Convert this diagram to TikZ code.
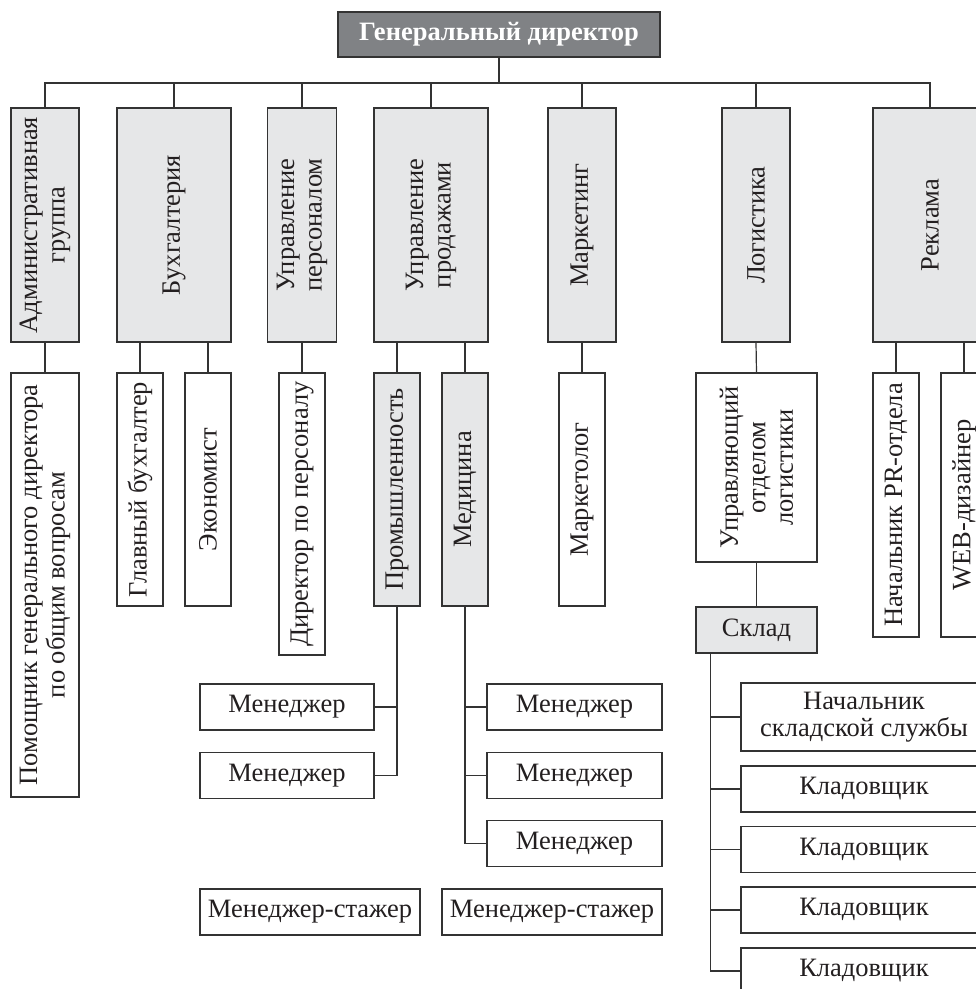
\documentclass[tikz,border=0pt]{standalone}
\usepackage{fontspec}
\setmainfont{Liberation Serif}
\definecolor{linec}{HTML}{333333}
\definecolor{boxgray}{HTML}{E6E7E8}
\definecolor{topgray}{HTML}{808285}
\definecolor{txt}{HTML}{231F20}
\tikzset{
  box/.style={draw=linec, line width=1.2pt, fill=white, inner sep=0pt, text=txt,
    font=\fontsize{26.5}{27.5}\selectfont, align=center},
  gbox/.style={box, fill=boxgray},
  vbox/.style={rotate=90},
  conn/.style={draw=linec, line width=1.2pt},
}
\begin{document}
\begin{tikzpicture}[x=1pt,y=-1pt]
\useasboundingbox (0,0) rectangle (976,989);
\clip (0,0) rectangle (976,989);
% top
\node[box, fill=topgray, text=white, font=\fontsize{26.5}{27.5}\selectfont\bfseries,
  minimum width=322pt, minimum height=45pt] (gd) at (499,34.5) {Генеральный директор};
\coordinate (bus) at (499,83);
% level 1
\node[gbox, vbox, minimum width=234pt, minimum height=68pt] (adm) at (45,225) {Административная\\группа};
\node[gbox, vbox, minimum width=234pt, minimum height=114pt] (buh) at (174,225) {Бухгалтерия};
\node[gbox, vbox, minimum width=234pt, minimum height=69pt] (pers) at (302,225) {Управление\\персоналом};
\node[gbox, vbox, minimum width=234pt, minimum height=114pt] (sales) at (431,225) {Управление\\продажами};
\node[gbox, vbox, minimum width=234pt, minimum height=68pt] (mkt) at (582,225) {Маркетинг};
\node[gbox, vbox, minimum width=234pt, minimum height=68pt] (log) at (756,225) {Логистика};
\node[gbox, vbox, minimum width=234pt, minimum height=114pt] (adv) at (930,225) {Реклама};
% level 2
\node[box, vbox, minimum width=424pt, minimum height=68pt] (asst) at (45,585) {Помощник генерального директора\\по общим вопросам};
\node[box, vbox, minimum width=233pt, minimum height=46pt] (ca) at (140,489.5) {Главный бухгалтер};
\node[box, vbox, minimum width=233pt, minimum height=46pt] (econ) at (208,489.5) {Экономист};
\node[box, vbox, minimum width=282pt, minimum height=46pt] (hrd) at (302,514) {Директор по персоналу};
\node[gbox, vbox, minimum width=233pt, minimum height=46pt] (prom) at (397,489.5) {Промышленность};
\node[gbox, vbox, minimum width=233pt, minimum height=46pt] (med) at (465,489.5) {Медицина};
\node[box, vbox, minimum width=233pt, minimum height=46pt] (mktr) at (582,489.5) {Маркетолог};
\node[box, vbox, minimum width=189pt, minimum height=121pt] (lmgr) at (756.5,467.5) {Управляющий\\отделом\\логистики};
\node[gbox, minimum width=121pt, minimum height=46pt] (sklad) at (756.5,630) {Склад};
\node[box, vbox, minimum width=264pt, minimum height=46pt] (pr) at (896,505) {Начальник PR-отдела};
\node[box, vbox, minimum width=264pt, minimum height=46pt] (web) at (964,505) {WEB-дизайнер};
% level 3
\node[box, minimum width=174pt, minimum height=46pt] (m1) at (287,707) {Менеджер};
\node[box, minimum width=174pt, minimum height=46pt] (m2) at (287,775.5) {Менеджер};
\node[box, minimum width=175pt, minimum height=46pt] (m3) at (574.5,707) {Менеджер};
\node[box, minimum width=175pt, minimum height=46pt] (m4) at (574.5,775.5) {Менеджер};
\node[box, minimum width=175pt, minimum height=46pt] (m5) at (574.5,843.5) {Менеджер};
\node[box, minimum width=220pt, minimum height=46pt] (s1) at (310,912) {Менеджер-стажер};
\node[box, minimum width=220pt, minimum height=46pt] (s2) at (552,912) {Менеджер-стажер};
% warehouse
\node[box, minimum width=246pt, minimum height=68pt] (nach) at (864,717) {Начальник\\складской службы};
\node[box, minimum width=246pt, minimum height=46pt] (k1) at (864,789) {Кладовщик};
\node[box, minimum width=246pt, minimum height=46pt] (k2) at (864,849.5) {Кладовщик};
\node[box, minimum width=246pt, minimum height=46pt] (k3) at (864,910) {Кладовщик};
\node[box, minimum width=246pt, minimum height=46pt] (k4) at (864,971) {Кладовщик};
% connectors top
\draw[conn] (gd.south) -- (bus);
\draw[conn] (adm.east) -- (adm.east |- bus) -| (adv.east);
\foreach \n in {buh,pers,sales,mkt,log}
  \draw[conn] (\n.east) -- (\n.east |- bus);
% level 1 -> 2
\draw[conn] (adm.west) -- (asst.east);
\draw[conn] (ca.east) -- (ca.east |- buh.west);
\draw[conn] (econ.east) -- (econ.east |- buh.west);
\draw[conn] (pers.west) -- (hrd.east);
\draw[conn] (prom.east) -- (prom.east |- sales.west);
\draw[conn] (med.east) -- (med.east |- sales.west);
\draw[conn] (mkt.west) -- (mktr.east);
\draw[conn] (log.west) -- (lmgr.east);
\draw[conn] (lmgr.west) -- (sklad.north);
\draw[conn] (pr.east) -- (pr.east |- adv.west);
\draw[conn] (web.east) -- (web.east |- adv.west);
% sales spines
\draw[conn] (prom.west) |- (m2.east);
\draw[conn] (m1.east) -- (m1.east -| prom.west);
\draw[conn] (med.west) |- (m5.west);
\draw[conn] (m3.west) -- (m3.west -| med.west);
\draw[conn] (m4.west) -- (m4.west -| med.west);
% warehouse spine
\coordinate (skd) at ([xshift=15pt]sklad.south west);
\draw[conn] (skd) |- (k4.west);
\foreach \n in {nach,k1,k2,k3}
  \draw[conn] (\n.west) -- (\n.west -| skd);
\end{tikzpicture}
\end{document}
